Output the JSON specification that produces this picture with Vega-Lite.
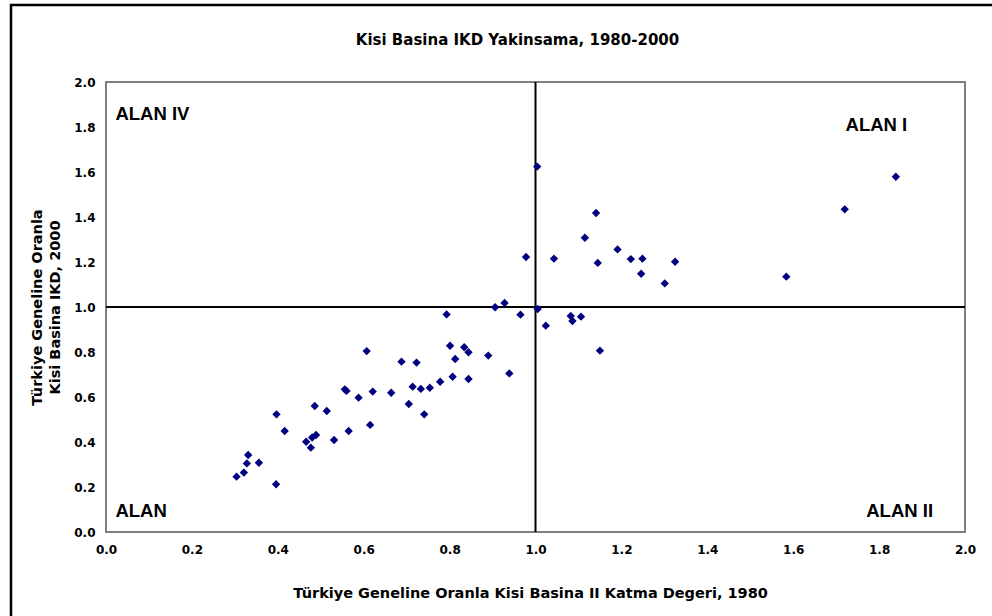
{
  "$schema": "https://vega.github.io/schema/vega-lite/v6.json",
  "width": 859,
  "height": 450,
  "autosize": {"type": "none"},
  "padding": {"left": 106, "top": 82, "right": 27, "bottom": 84},
  "background": "white",
  "config": {
    "view": {"stroke": "#808080", "strokeWidth": 2},
    "font": "DejaVu Sans"
  },
  "title": {
    "text": "Kisi Basina IKD Yakinsama, 1980-2000",
    "font": "DejaVu Sans",
    "fontSize": 15,
    "fontWeight": "bold",
    "color": "black",
    "offset": -44,
    "dx": -18
  },
  "datasets": {
    "points": [
      {"x": 1.004, "y": 1.624}, {"x": 1.839, "y": 1.579}, {"x": 1.72, "y": 1.434},
      {"x": 1.141, "y": 1.418}, {"x": 1.115, "y": 1.308}, {"x": 1.191, "y": 1.256},
      {"x": 0.978, "y": 1.222}, {"x": 1.043, "y": 1.215}, {"x": 1.145, "y": 1.196},
      {"x": 1.222, "y": 1.213}, {"x": 1.249, "y": 1.215}, {"x": 1.325, "y": 1.201},
      {"x": 1.246, "y": 1.148}, {"x": 1.301, "y": 1.105}, {"x": 1.584, "y": 1.135},
      {"x": 0.928, "y": 1.018}, {"x": 0.906, "y": 0.999}, {"x": 0.965, "y": 0.966},
      {"x": 0.793, "y": 0.967}, {"x": 1.005, "y": 0.991}, {"x": 1.024, "y": 0.917},
      {"x": 1.082, "y": 0.96}, {"x": 1.086, "y": 0.938}, {"x": 1.106, "y": 0.957},
      {"x": 1.15, "y": 0.806}, {"x": 0.607, "y": 0.804}, {"x": 0.688, "y": 0.757},
      {"x": 0.723, "y": 0.753}, {"x": 0.801, "y": 0.828}, {"x": 0.834, "y": 0.821},
      {"x": 0.844, "y": 0.799}, {"x": 0.813, "y": 0.769}, {"x": 0.89, "y": 0.784},
      {"x": 0.939, "y": 0.705}, {"x": 0.807, "y": 0.69}, {"x": 0.844, "y": 0.68},
      {"x": 0.778, "y": 0.668}, {"x": 0.754, "y": 0.641}, {"x": 0.733, "y": 0.636},
      {"x": 0.714, "y": 0.646}, {"x": 0.664, "y": 0.619}, {"x": 0.621, "y": 0.624},
      {"x": 0.588, "y": 0.597}, {"x": 0.56, "y": 0.627}, {"x": 0.556, "y": 0.634},
      {"x": 0.705, "y": 0.569}, {"x": 0.741, "y": 0.523}, {"x": 0.486, "y": 0.56},
      {"x": 0.514, "y": 0.538}, {"x": 0.397, "y": 0.523}, {"x": 0.416, "y": 0.449},
      {"x": 0.565, "y": 0.449}, {"x": 0.615, "y": 0.476}, {"x": 0.531, "y": 0.409},
      {"x": 0.466, "y": 0.401}, {"x": 0.489, "y": 0.431}, {"x": 0.477, "y": 0.375},
      {"x": 0.48, "y": 0.42}, {"x": 0.331, "y": 0.342}, {"x": 0.328, "y": 0.305},
      {"x": 0.356, "y": 0.308}, {"x": 0.321, "y": 0.264}, {"x": 0.304, "y": 0.246},
      {"x": 0.396, "y": 0.212}
    ],
    "labels": [
      {"label": "ALAN IV", "x": 0.022, "y": 1.86},
      {"label": "ALAN I", "x": 1.722, "y": 1.81},
      {"label": "ALAN", "x": 0.022, "y": 0.095},
      {"label": "ALAN II", "x": 1.77, "y": 0.095}
    ]
  },
  "layer": [
    {
      "data": {"name": "points"},
      "mark": {"type": "rect", "fill": null, "stroke": "black", "strokeWidth": 2.5, "clip": false},
      "transform": [{"filter": "datum.x == 1.004"}],
      "encoding": {
        "x": {"datum": -0.2212, "type": "quantitative", "scale": {"domain": [0, 2], "nice": false, "zero": false}},
        "x2": {"datum": 2.2},
        "y": {"datum": 2.342, "type": "quantitative", "scale": {"domain": [0, 2], "nice": false, "zero": false}},
        "y2": {"datum": -0.6}
      }
    },
    {
      "data": {"name": "points"},
      "mark": {"type": "rule", "color": "black", "strokeWidth": 2},
      "transform": [{"filter": "datum.x == 1.004"}],
      "encoding": {"x": {"datum": 1, "type": "quantitative"}}
    },
    {
      "data": {"name": "points"},
      "mark": {"type": "rule", "color": "black", "strokeWidth": 2},
      "transform": [{"filter": "datum.x == 1.004"}],
      "encoding": {"y": {"datum": 1, "type": "quantitative"}}
    },
    {
      "data": {"name": "points"},
      "mark": {"type": "point", "shape": "diamond", "filled": true, "color": "#000080", "size": 70, "opacity": 1},
      "encoding": {
        "x": {
          "field": "x", "type": "quantitative",
          "scale": {"domain": [0, 2], "nice": false, "zero": false},
          "axis": {
            "values": [0, 0.2, 0.4, 0.6, 0.8, 1, 1.2, 1.4, 1.6, 1.8, 2],
            "format": ".1f", "grid": false, "domain": false, "ticks": false,
            "labelPadding": 12, "labelFont": "DejaVu Sans", "labelFontWeight": "bold",
            "labelFontSize": 12, "labelColor": "black", "labelFlush": false,
            "title": "Türkiye Geneline Oranla Kisi Basina II Katma Degeri, 1980",
            "titleFont": "DejaVu Sans", "titleFontWeight": "bold", "titleFontSize": 14.5,
            "titleColor": "black", "titlePadding": 31, "titleX": 424
          }
        },
        "y": {
          "field": "y", "type": "quantitative",
          "scale": {"domain": [0, 2], "nice": false, "zero": false},
          "axis": {
            "values": [0, 0.2, 0.4, 0.6, 0.8, 1, 1.2, 1.4, 1.6, 1.8, 2],
            "format": ".1f", "grid": false, "domain": false, "ticks": false,
            "labelPadding": 11, "labelFont": "DejaVu Sans", "labelFontWeight": "bold",
            "labelFontSize": 12, "labelColor": "black", "labelFlush": false,
            "title": ["Türkiye Geneline Oranla", "Kisi Basina IKD, 2000"],
            "titleFont": "DejaVu Sans", "titleFontWeight": "bold", "titleFontSize": 14.5,
            "titleColor": "black", "titlePadding": 11, "titleLineHeight": 18
          }
        }
      }
    },
    {
      "data": {"name": "labels"},
      "mark": {"type": "text", "align": "left", "baseline": "middle", "font": "Liberation Sans", "fontWeight": "bold", "fontSize": 18.5, "color": "black"},
      "encoding": {
        "x": {"field": "x", "type": "quantitative"},
        "y": {"field": "y", "type": "quantitative"},
        "text": {"field": "label"}
      }
    }
  ]
}
